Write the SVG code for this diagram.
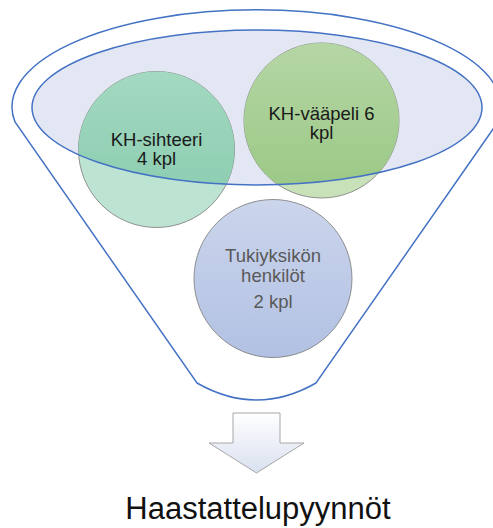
<svg xmlns="http://www.w3.org/2000/svg" width="493" height="528" viewBox="0 0 493 528">
<style>
.outline{fill:none;stroke:#4472C4;stroke-width:1.5}
.circ{stroke:#7F7F7F;stroke-opacity:0.85;stroke-width:1}
.lbl{font-family:"Liberation Sans",Arial,sans-serif;font-size:18.5px;text-anchor:middle;fill:#1a1a1a}
.gray{fill:#595959}
</style>
<defs>
<linearGradient id="gA" x1="0" y1="0" x2="0" y2="1"><stop offset="0" stop-color="#A3D9C1"/><stop offset="1" stop-color="#86CAAC"/></linearGradient>
<linearGradient id="gB" x1="0" y1="0" x2="0" y2="1"><stop offset="0" stop-color="#B5D6A5"/><stop offset="1" stop-color="#9AC884"/></linearGradient>
<linearGradient id="gC" x1="0" y1="0" x2="0" y2="1"><stop offset="0" stop-color="#CBD5EC"/><stop offset="1" stop-color="#B2C1E3"/></linearGradient>
<linearGradient id="gArrow" x1="0" y1="0" x2="0" y2="1"><stop offset="0" stop-color="#FFFFFF"/><stop offset="1" stop-color="#D9E0EF"/></linearGradient>
<clipPath id="inner"><ellipse cx="257" cy="107.5" rx="225" ry="77.5"/></clipPath>
</defs>

<g id="funnel">
<ellipse cx="257" cy="107.5" rx="225" ry="77.5" fill="#E3E7F3"/>
<path class="outline" d="M15,122 A244.5,97 0 1 1 498,122 L316,383 Q256.5,417 197,383 Z"/>
</g>

<g id="node-kh-sihteeri">
<circle class="circ" cx="156.5" cy="149.5" r="78" fill="#BDE4D3"/>
<circle cx="156.5" cy="149.5" r="78" fill="url(#gA)" clip-path="url(#inner)"/>
<text class="lbl" x="156.5" y="146">KH-sihteeri</text>
<text class="lbl" x="156.5" y="165">4 kpl</text>
</g>

<g id="node-kh-vaapeli">
<circle class="circ" cx="321.5" cy="120.5" r="77.5" fill="#C8E1B9"/>
<circle cx="321.5" cy="120.5" r="77.5" fill="url(#gB)" clip-path="url(#inner)"/>
<text class="lbl" x="321.5" y="120">KH-vääpeli 6</text>
<text class="lbl" x="321.5" y="139">kpl</text>
</g>

<g id="inner-rim">
<ellipse class="outline" cx="257" cy="107.5" rx="225" ry="77.5"/>
</g>

<g id="node-tukiyksikko">
<circle class="circ" cx="273" cy="278.5" r="79" fill="url(#gC)"/>
<text class="lbl gray" x="273" y="261.5">Tukiyksikön</text>
<text class="lbl gray" x="273" y="281.5">henkilöt</text>
<text class="lbl gray" x="273" y="308">2 kpl</text>
</g>

<g id="connectors">
<polygon points="233,413 280,413 280,443 304,443 256.5,473 209,443 233,443" fill="url(#gArrow)" stroke="#A6A6A6" stroke-width="1"/>
</g>

<g id="node-result">
<text x="258" y="519" font-family="'Liberation Sans',Arial,sans-serif" font-size="31" text-anchor="middle" fill="#111">Haastattelupyynnöt</text>
</g>
</svg>
